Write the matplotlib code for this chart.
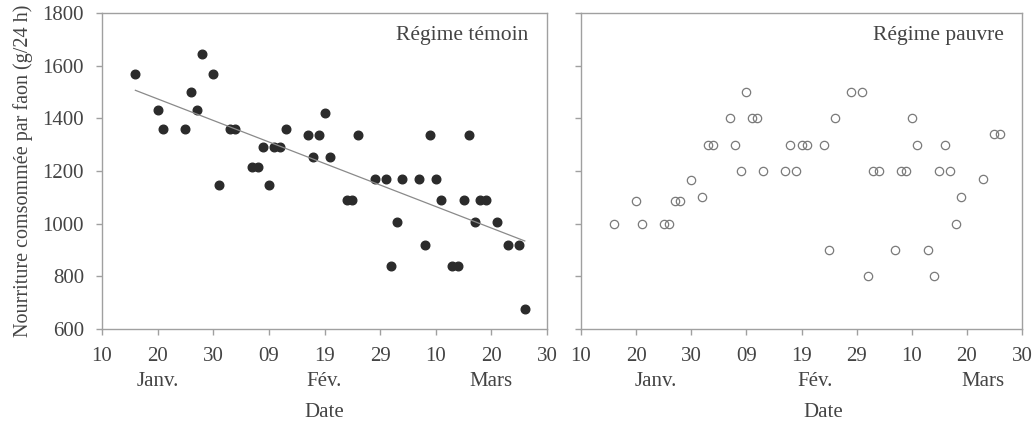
import matplotlib
matplotlib.use('Agg')
import matplotlib.pyplot as plt
import numpy as np

# days counted from 10 January
temoin_jour = [6, 10, 11, 15, 16, 17, 18, 20, 21, 23, 24, 27, 28, 29, 30, 31, 32, 33,
               37, 38, 39, 40, 41, 44, 45, 46, 49, 51, 52, 53, 54, 57, 58, 59, 60, 61,
               63, 64, 65, 66, 67, 68, 69, 71, 73, 75, 76]
temoin_val = [1570, 1430, 1360, 1360, 1500, 1430, 1645, 1570, 1145, 1360, 1360, 1215,
              1215, 1290, 1145, 1290, 1290, 1360, 1335, 1255, 1335, 1420, 1255, 1090,
              1090, 1335, 1170, 1170, 840, 1005, 1170, 1170, 920, 1335, 1170, 1090,
              840, 840, 1090, 1335, 1005, 1090, 1090, 1005, 920, 920, 675]

pauvre_jour = [6, 10, 11, 15, 16, 17, 18, 20, 22, 23, 24, 27, 28, 29, 30, 31, 32, 33,
               37, 38, 39, 40, 41, 44, 45, 46, 49, 51, 52, 53, 54, 57, 58, 59, 60, 61,
               63, 64, 65, 66, 67, 68, 69, 73, 75, 76]
pauvre_val = [1000, 1085, 1000, 1000, 1000, 1085, 1085, 1165, 1100, 1300, 1300, 1400,
              1300, 1200, 1500, 1400, 1400, 1200, 1200, 1300, 1200, 1300, 1300, 1300,
              900, 1400, 1500, 1500, 800, 1200, 1200, 900, 1200, 1200, 1400, 1300,
              900, 800, 1200, 1300, 1200, 1000, 1100, 1170, 1340, 1340]

jour_ticks = [0, 10, 20, 30, 40, 50, 60, 70, 80]
jour_labels = ['10', '20', '30', '09', '19', '29', '10', '20', '30']
mois = ['Janv.', 'Fév.', 'Mars']
y_ticks = [600, 800, 1000, 1200, 1400, 1600, 1800]

plt.rcParams['font.family'] = ['Liberation Serif', 'DejaVu Serif']
txt = '#444444'
frame = '#a0a0a0'

fig = plt.figure(figsize=(10.32, 4.23), dpi=100)
ax1 = fig.add_axes([102 / 1032, 1 - 329 / 423, 445 / 1032, 316 / 423])
ax2 = fig.add_axes([581 / 1032, 1 - 329 / 423, 441 / 1032, 316 / 423])

ax1.plot(temoin_jour, temoin_val, 'o', ms=6.2, color='#2b2b2b', mec='#2b2b2b')
a, b = np.polyfit(temoin_jour, temoin_val, 1)
xl = np.array([min(temoin_jour), max(temoin_jour)])
ax1.plot(xl, a * xl + b, color='#8a8a8a', lw=0.9)

ax2.plot(pauvre_jour, pauvre_val, 'o', ms=6, mfc='none', mec='#7a7a7a', mew=0.9)

for ax, titre, pos_mois, dx in [(ax1, 'Régime témoin', [10, 40, 70], 0),
                                (ax2, 'Régime pauvre', [13.5, 42.5, 73], 22)]:
    ax.set_xlim(0, 80)
    ax.set_ylim(600, 1800)
    ax.set_xticks(jour_ticks)
    ax.set_xticklabels(jour_labels)
    ax.set_yticks(y_ticks)
    for s in ax.spines.values():
        s.set_color(frame)
        s.set_linewidth(1.0)
    ax.tick_params(direction='out', length=4, width=1, color=frame,
                   labelcolor=txt, labelsize=15, pad=9)
    ax.text(0.958, 0.93, titre, transform=ax.transAxes, ha='right', va='center',
            fontsize=15.5, color=txt)
    trans = ax.get_xaxis_transform()
    for m, p in zip(mois, pos_mois):
        ax.text(p, -0.165, m, transform=trans, ha='center', va='center',
                fontsize=15, color=txt)
    ax.text(0.5 + dx / 441, -0.263, 'Date', transform=ax.transAxes, ha='center',
            va='center', fontsize=15, color=txt)

ax2.set_yticklabels([])
ax1.set_ylabel('Nourriture comsommée par faon (g/24 h)', fontsize=14.5, color=txt,
               labelpad=7)

fig.savefig('out.png', dpi=100)
